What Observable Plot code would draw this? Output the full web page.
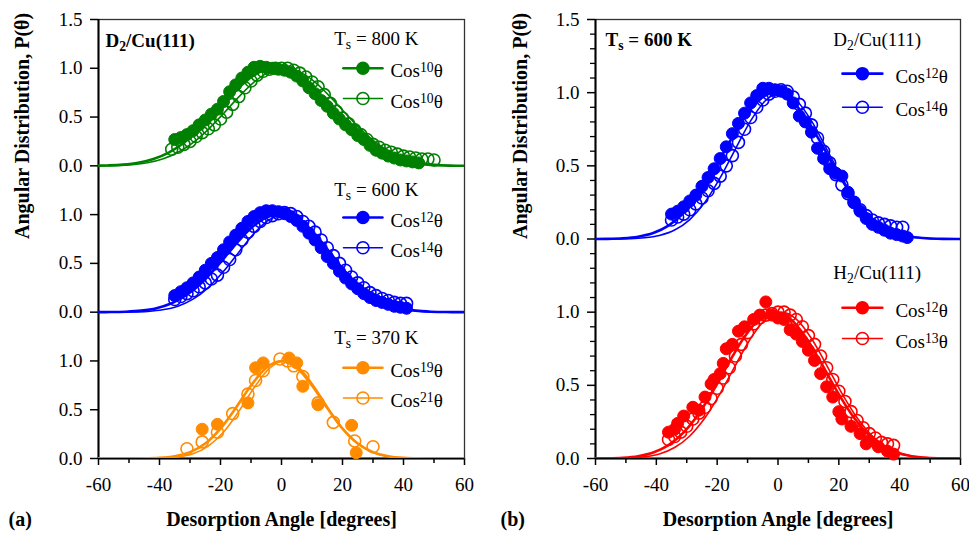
<!DOCTYPE html>
<html><head><meta charset="utf-8">
<script src="https://cdn.jsdelivr.net/npm/d3@7"></script>
<script src="https://cdn.jsdelivr.net/npm/@observablehq/plot@0.6"></script>
<style>body{margin:0;background:#fff}#wrap{display:flex;width:969px;height:539px;background:#fff}</style>
</head><body><div id="wrap"></div>
<script>
// ---------- DATA ----------
const xTicks = [-60, -40, -20, 0, 20, 40, 60];
const xMinorTicks = [-50, -30, -10, 10, 30, 50];
const yTicksA = [0, 0.5, 1, 1.5, 2, 2.5, 3, 3.5, 4, 4.5];
const yLabelsA = ["0.0", "0.5", "1.0", "0.0", "0.5", "1.0", "0.0", "0.5", "1.0", "1.5"];
const yTicksB = [0, 0.5, 1, 1.5, 2, 2.5, 3];
const yLabelsB = ["0.0", "0.5", "1.0", "0.0", "0.5", "1.0", "1.5"];

// fit profiles P(θ) read at |θ| = 0,5,...,65 degrees
const fitStep = [0, 5, 10, 15, 20, 25, 30, 35, 40, 45, 50, 55, 60, 65];
const cos10 = [1, 0.963, 0.858, 0.707, 0.537, 0.374, 0.237, 0.136, 0.070, 0.031, 0.012, 0.004, 0.001, 0];
const cos12 = [1, 0.955, 0.832, 0.660, 0.474, 0.307, 0.178, 0.091, 0.041, 0.016, 0.005, 0.001, 0, 0];
const cos13 = [1, 0.952, 0.820, 0.637, 0.445, 0.278, 0.154, 0.075, 0.031, 0.011, 0.003, 0.001, 0, 0];
const cos14 = [1, 0.948, 0.807, 0.615, 0.419, 0.252, 0.133, 0.061, 0.024, 0.008, 0.002, 0, 0, 0];
const cos19 = [1, 0.930, 0.748, 0.518, 0.307, 0.154, 0.065, 0.023, 0.006, 0.001, 0, 0, 0, 0];
const cos21 = [1, 0.923, 0.725, 0.483, 0.271, 0.127, 0.049, 0.015, 0.004, 0.001, 0, 0, 0, 0];
// fit centres (degrees)
const fitCenters = {g800f: -2, g800o: 1, b600f: -1, b600o: 1, o370f: 0, o370o: 1, bBf: -1, bBo: 1, rf: -1, ro: 1};

// panel (a) Ts = 800 K
const g800Filled = [[-35,0.27],[-33,0.29],[-31,0.32],[-29,0.36],[-27,0.42],[-25,0.47],[-23,0.53],[-21,0.58],[-19,0.66],[-17,0.76],[-15,0.83],[-13,0.90],[-11,0.96],[-9,1.01],[-7,1.02],[-5,1.01],[-3,1.00],[-1,0.99],[1,0.98],[3,0.96],[5,0.92],[7,0.87],[9,0.80],[11,0.74],[13,0.67],[15,0.61],[17,0.54],[19,0.48],[21,0.42],[23,0.37],[25,0.31],[27,0.27],[29,0.21],[31,0.16],[33,0.13],[35,0.10],[37,0.08],[39,0.06],[41,0.05],[43,0.04],[45,0.03]];
const g800Open = [[-36,0.17],[-34,0.19],[-32,0.22],[-30,0.25],[-28,0.30],[-26,0.34],[-24,0.38],[-22,0.42],[-20,0.48],[-18,0.55],[-16,0.63],[-14,0.71],[-12,0.80],[-10,0.87],[-8,0.93],[-6,0.97],[-4,0.99],[-2,1.00],[0,1.00],[2,1.00],[4,0.98],[6,0.95],[8,0.91],[10,0.86],[12,0.81],[14,0.73],[16,0.64],[18,0.56],[20,0.49],[22,0.43],[24,0.37],[26,0.32],[28,0.27],[30,0.22],[32,0.19],[34,0.16],[36,0.14],[38,0.12],[40,0.10],[42,0.09],[44,0.08],[46,0.07],[48,0.07],[50,0.06]];
// panel (a) Ts = 600 K
const b600Filled = [[-35,0.17],[-33,0.21],[-31,0.25],[-29,0.30],[-27,0.36],[-25,0.43],[-23,0.50],[-21,0.56],[-19,0.64],[-17,0.72],[-15,0.79],[-13,0.86],[-11,0.93],[-9,0.98],[-7,1.02],[-5,1.04],[-3,1.04],[-1,1.03],[1,1.01],[3,0.98],[5,0.94],[7,0.88],[9,0.81],[11,0.74],[13,0.66],[15,0.57],[17,0.50],[19,0.42],[21,0.35],[23,0.29],[25,0.24],[27,0.19],[29,0.15],[31,0.12],[33,0.10],[35,0.08],[37,0.06],[39,0.05],[41,0.04]];
const b600Open = [[-35,0.13],[-33,0.16],[-31,0.19],[-29,0.22],[-27,0.26],[-25,0.30],[-23,0.34],[-21,0.38],[-19,0.46],[-17,0.54],[-15,0.64],[-13,0.74],[-11,0.82],[-9,0.88],[-7,0.93],[-5,0.97],[-3,0.99],[-1,1.01],[1,1.02],[3,1.01],[5,0.98],[7,0.93],[9,0.88],[11,0.82],[13,0.74],[15,0.66],[17,0.58],[19,0.50],[21,0.43],[23,0.36],[25,0.30],[27,0.25],[29,0.20],[31,0.17],[33,0.14],[35,0.12],[37,0.10],[39,0.09],[41,0.09]];
// panel (a) Ts = 370 K
const o370Filled = [[-26,0.30],[-21,0.35],[-11,0.57],[-8.5,0.93],[-6,0.98],[2.5,1.03],[5,0.98],[7,0.74],[12,0.55],[23,0.34],[24.5,0.06]];
const o370Open = [[-31,0.10],[-26,0.17],[-21,0.27],[-16,0.46],[-11,0.66],[-8.5,0.80],[-6,0.90],[-0.5,1.02],[2,1.00],[4,0.95],[7,0.84],[12,0.57],[17,0.37],[24,0.18],[30,0.12]];
// panel (b) D2/Cu(111), Ts = 600 K
const bBFilled = [[-35,0.17],[-33,0.19],[-31,0.22],[-29,0.26],[-27,0.30],[-25,0.36],[-23,0.42],[-21,0.48],[-19,0.55],[-17,0.63],[-15,0.72],[-13,0.79],[-11,0.86],[-9,0.93],[-7,0.98],[-5,1.03],[-3,1.03],[-1,1.02],[1,1.01],[3,0.99],[5,0.93],[7,0.84],[9,0.80],[11,0.73],[13,0.62],[15,0.55],[17,0.48],[19,0.45],[21,0.43],[23,0.32],[25,0.25],[27,0.19],[29,0.14],[31,0.10],[33,0.08],[35,0.06],[37,0.04],[39,0.03],[41,0.02],[42.5,0.01]];
const bBOpen = [[-35,0.13],[-33,0.15],[-31,0.17],[-29,0.20],[-27,0.24],[-25,0.28],[-23,0.33],[-21,0.38],[-19,0.43],[-17,0.50],[-15,0.57],[-13,0.66],[-11,0.75],[-9,0.83],[-7,0.90],[-5,0.95],[-3,0.99],[-1,1.01],[1,1.02],[3,1.01],[5,0.97],[7,0.92],[9,0.86],[11,0.78],[13,0.69],[15,0.60],[17,0.52],[19,0.44],[21,0.37],[23,0.31],[25,0.25],[27,0.20],[29,0.16],[31,0.13],[33,0.11],[35,0.10],[37,0.09],[39,0.08],[41,0.08]];
// panel (b) H2/Cu(111)
const rFilled = [[-36,0.18],[-34,0.20],[-33,0.24],[-31,0.29],[-28,0.35],[-26,0.33],[-24,0.42],[-22,0.51],[-21,0.54],[-19,0.58],[-18,0.65],[-17,0.75],[-15,0.78],[-13,0.87],[-11,0.90],[-8,0.95],[-6,0.98],[-4,1.07],[-2,0.98],[0,0.96],[2,0.95],[4,0.88],[6,0.85],[8,0.80],[10,0.74],[12,0.67],[14,0.58],[16,0.49],[18,0.42],[20,0.32],[21,0.27],[24,0.22],[27,0.17],[29,0.10],[30,0.12],[33,0.08],[36,0.05],[38,0.03]];
const rOpen = [[-36,0.13],[-34,0.15],[-32,0.18],[-30,0.22],[-28,0.27],[-26,0.31],[-24,0.35],[-22,0.41],[-20,0.48],[-18,0.55],[-16,0.62],[-14,0.70],[-12,0.78],[-10,0.86],[-8,0.92],[-6,0.96],[-4,0.98],[-2,0.99],[0,1.00],[2,1.00],[4,0.98],[6,0.95],[8,0.90],[10,0.84],[12,0.78],[14,0.70],[16,0.62],[18,0.54],[20,0.46],[22,0.39],[24,0.32],[26,0.26],[28,0.21],[30,0.17],[32,0.14],[34,0.11],[36,0.10],[38,0.09]];

// ---------- DRAWING ----------
const FONT = "'Liberation Serif', 'Times New Roman', serif";
const GREEN = "#008000", BLUE = "#0000ff", ORANGE = "#ff8c00", RED = "#ff0000";

function profile(half, center) {
  const pts = [];
  for (let i = half.length - 1; i > 0; i--) pts.push([center - fitStep[i], half[i]]);
  for (let i = 0; i < half.length; i++) pts.push([center + fitStep[i], half[i]]);
  return pts;
}

function group(filled, open, fitF, fitO, color, off) {
  return [
    Plot.line(fitF, {x: d => d[0], y: d => d[1] + off, stroke: color, strokeWidth: 2.6, curve: "monotone-x", clip: true}),
    Plot.line(fitO, {x: d => d[0], y: d => d[1] + off, stroke: color, strokeWidth: 1.6, curve: "monotone-x", clip: true}),
    Plot.dot(filled, {x: d => d[0], y: d => d[1] + off, r: 6, fill: color, stroke: color, strokeWidth: 1}),
    Plot.dot(open, {x: d => d[0], y: d => d[1] + off, r: 6, fill: "none", stroke: color, strokeWidth: 1.6})
  ];
}

function legend(color, x0, x1, xt, yTitle, y1, y2, title, lab1, lab2, titleWeight) {
  const xm = (x0 + x1) / 2;
  return [
    Plot.text([title], {x: x0 - 3, y: yTitle, text: d => d, textAnchor: "start", fontSize: 19, fontWeight: titleWeight || "normal", fill: "black"}),
    Plot.line([[x0, y1], [x1, y1]], {x: d => d[0], y: d => d[1], stroke: color, strokeWidth: 2.6}),
    Plot.dot([[xm, y1]], {x: d => d[0], y: d => d[1], r: 6, fill: color, stroke: color}),
    Plot.text([lab1], {x: xt, y: y1, text: d => d, textAnchor: "start", fontSize: 19, dy: 3, fill: "black"}),
    Plot.line([[x0, y2], [x1, y2]], {x: d => d[0], y: d => d[1], stroke: color, strokeWidth: 1.4}),
    Plot.dot([[xm, y2]], {x: d => d[0], y: d => d[1], r: 6, fill: "none", stroke: color, strokeWidth: 1.6}),
    Plot.text([lab2], {x: xt, y: y2, text: d => d, textAnchor: "start", fontSize: 19, dy: 3, fill: "black"})
  ];
}

function axes(yTicks, yLabels, yMinor, ylabelDx, tagDx, tag) {
  const m = [
    Plot.axisX(xMinorTicks, {tickFormat: () => "", tickSize: 5, strokeWidth: 1.5, label: null}),
    Plot.axisX(xTicks, {tickFormat: d => String(d), tickSize: 7, tickPadding: 12, strokeWidth: 1.5, label: null, fontSize: 19}),
    Plot.axisY(yTicks, {tickFormat: d => yLabels[yTicks.indexOf(d)], tickSize: 8, tickPadding: 8, strokeWidth: 1.5, label: null, fontSize: 19}),
    Plot.frame({stroke: "#333", strokeWidth: 1.3}),
    Plot.ruleX([-60], {stroke: "black", strokeWidth: 2}),
    Plot.ruleY([0], {stroke: "black", strokeWidth: 2}),
    Plot.text(["Desorption Angle [degrees]"], {text: d => d, frameAnchor: "bottom", dy: 67, fontWeight: "bold", fontSize: 20, fill: "black"}),
    Plot.text(["Angular Distribution, P(θ)"], {text: d => d, frameAnchor: "left", rotate: -90, dx: ylabelDx, fontWeight: "bold", fontSize: 20, fill: "black"}),
    Plot.text([tag], {text: d => d, frameAnchor: "bottom-left", textAnchor: "start", dx: tagDx, dy: 67, fontWeight: "bold", fontSize: 20, fill: "black"})
  ];
  if (yMinor) m.unshift(Plot.axisY(yMinor, {tickFormat: () => "", tickSize: 5, strokeWidth: 1.3, label: null}));
  return m;
}

function rich(svg) {
  d3.select(svg).selectAll("text").each(function () {
    const t = this.textContent;
    if (!/[\^_]\{/.test(t)) return;
    const parts = t.split(/([\^_]\{[^}]*\})/);
    this.textContent = "";
    for (const p of parts) {
      if (!p) continue;
      const m = p.match(/^([\^_])\{(.*)\}$/);
      const ts = d3.select(this).append("tspan");
      if (m) ts.text(m[2]).attr("font-size", "72%").attr("baseline-shift", m[1] === "^" ? "38%" : "-25%");
      else ts.text(p);
    }
  });
  return svg;
}

const style = {fontFamily: FONT, fontSize: "19px", color: "black", background: "white", overflow: "visible"};

// Panel (a)
const plotA = Plot.plot({
  width: 484, height: 539,
  marginLeft: 98, marginRight: 20, marginTop: 19, marginBottom: 81,
  style,
  x: {domain: [-60, 60]},
  y: {domain: [0, 4.5]},
  marks: [
    ...axes(yTicksA, yLabelsA, null, -76, -90, "(a)"),
    ...group(g800Filled, g800Open, profile(cos10, fitCenters.g800f), profile(cos10, fitCenters.g800o), GREEN, 3),
    ...group(b600Filled, b600Open, profile(cos12, fitCenters.b600f), profile(cos14, fitCenters.b600o), BLUE, 1.5),
    ...group(o370Filled, o370Open, profile(cos19, fitCenters.o370f), profile(cos21, fitCenters.o370o), ORANGE, 0),
    Plot.text(["D_{2}/Cu(111)"], {text: d => d, x: -57.7, y: 4.28, textAnchor: "start", fontWeight: "bold", fontSize: 19, fill: "black"}),
    ...legend(GREEN, 20.3, 33.1, 35.7, 4.30, 4.00, 3.69, "T_{s} = 800 K", "Cos^{10}θ", "Cos^{10}θ"),
    ...legend(BLUE, 20.3, 33.1, 35.7, 2.75, 2.47, 2.16, "T_{s} = 600 K", "Cos^{12}θ", "Cos^{14}θ"),
    ...legend(ORANGE, 20.3, 33.1, 35.7, 1.24, 0.93, 0.62, "T_{s} = 370 K", "Cos^{19}θ", "Cos^{21}θ")
  ]
});

// Panel (b)
const yMinorB = d3.range(0, 3.0001, 0.1).map(v => Math.round(v * 10) / 10).filter(v => Math.round(v * 10) % 5 !== 0);
const plotB = Plot.plot({
  width: 485, height: 539,
  marginLeft: 111, marginRight: 9, marginTop: 19, marginBottom: 81,
  style,
  x: {domain: [-60, 60]},
  y: {domain: [0, 3]},
  marks: [
    ...axes(yTicksB, yLabelsB, yMinorB, -75, -95, "(b)"),
    ...group(bBFilled, bBOpen, profile(cos12, fitCenters.bBf), profile(cos14, fitCenters.bBo), BLUE, 1.5),
    ...group(rFilled, rOpen, profile(cos12, fitCenters.rf), profile(cos13, fitCenters.ro), RED, 0),
    Plot.text(["T_{s} = 600 K"], {text: d => d, x: -56.7, y: 2.86, textAnchor: "start", fontWeight: "bold", fontSize: 19, fill: "black"}),
    ...legend(BLUE, 21.2, 34.3, 38.6, 2.86, 2.63, 2.40, "D_{2}/Cu(111)", "Cos^{12}θ", "Cos^{14}θ"),
    ...legend(RED, 21.2, 34.3, 38.6, 1.27, 1.03, 0.82, "H_{2}/Cu(111)", "Cos^{12}θ", "Cos^{13}θ")
  ]
});

const wrap = document.getElementById("wrap");
wrap.appendChild(rich(plotA));
wrap.appendChild(rich(plotB));
</script></body></html>
